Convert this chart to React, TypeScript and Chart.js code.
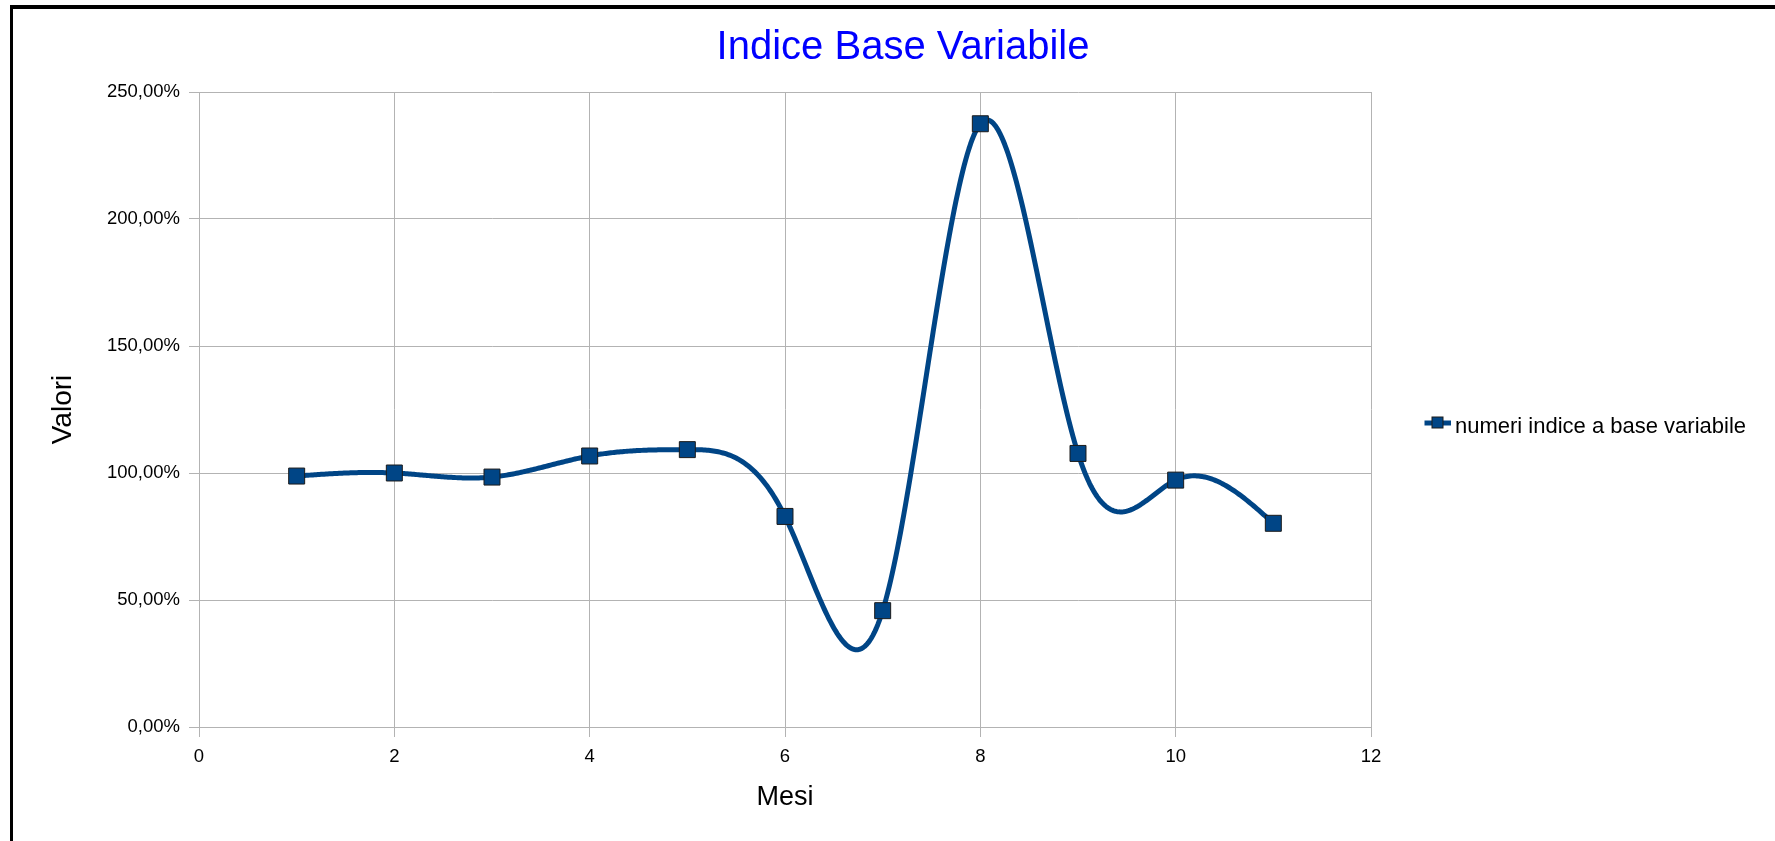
import React, { useEffect, useRef } from "react";
import { Chart, registerables } from "chart.js";

Chart.register(...registerables);

// ---- data ----
const chartTitle = "Indice Base Variabile";
const xAxisTitle = "Mesi";
const yAxisTitle = "Valori";
const seriesName = "numeri indice a base variabile";
const months = [1, 2, 3, 4, 5, 6, 7, 8, 9, 10, 11];
const indexValues = [98.8, 100.0, 98.4, 106.7, 109.2, 82.9, 45.8, 237.5, 107.7, 97.2, 80.2];
const xTickValues = [0, 2, 4, 6, 8, 10, 12];
const yTickValues = [0, 50, 100, 150, 200, 250];

// ---- style ----
const W = 1775;
const H = 841;
const FONT = "'Liberation Sans', Arial, Helvetica, sans-serif";
const LINE_COLOR = "#004586";
const MARKER_BORDER = "#1b1b1b";
const GRID = "#b3b3b3";
const LEGEND_FONT = 22;
const LEGEND_PAD = 10;
const LEGEND_BOX = 63;
const PLOT_RIGHT = 1371;
const PAD_LEFT = 50;
const PLOT_LEFT = 199;
const PAD_TOP = 12;

function splineSecondDerivatives(xs: number[], ys: number[]): number[] {
  const n = xs.length;
  const m = new Array(n).fill(0);
  if (n < 3) return m;
  const sub: number[] = [];
  const diag: number[] = [];
  const sup: number[] = [];
  const rhs: number[] = [];
  for (let i = 1; i < n - 1; i++) {
    const h0 = xs[i] - xs[i - 1];
    const h1 = xs[i + 1] - xs[i];
    sub.push(h0);
    diag.push(2 * (h0 + h1));
    sup.push(h1);
    rhs.push(6 * ((ys[i + 1] - ys[i]) / h1 - (ys[i] - ys[i - 1]) / h0));
  }
  const k = diag.length;
  for (let i = 1; i < k; i++) {
    const w = sub[i] / diag[i - 1];
    diag[i] -= w * sup[i - 1];
    rhs[i] -= w * rhs[i - 1];
  }
  const sol = new Array(k).fill(0);
  sol[k - 1] = rhs[k - 1] / diag[k - 1];
  for (let i = k - 2; i >= 0; i--) sol[i] = (rhs[i] - sup[i] * sol[i + 1]) / diag[i];
  for (let i = 0; i < k; i++) m[i + 1] = sol[i];
  return m;
}

const splinePlugin = {
  id: "naturalSplineLine",
  beforeDatasetsDraw(chart: any) {
    const ds = chart.data.datasets[0];
    const pts = ds.data as { x: number; y: number }[];
    const xs = pts.map((p) => p.x);
    const ys = pts.map((p) => p.y);
    const m = splineSecondDerivatives(xs, ys);
    const xScale = chart.scales.x;
    const yScale = chart.scales.y;
    const ctx = chart.ctx as CanvasRenderingContext2D;
    ctx.save();
    ctx.beginPath();
    const steps = 60;
    for (let i = 0; i < xs.length - 1; i++) {
      const h = xs[i + 1] - xs[i];
      for (let s = i === 0 ? 0 : 1; s <= steps; s++) {
        const b = s / steps;
        const a = 1 - b;
        const xv = xs[i] + b * h;
        const yv =
          a * ys[i] + b * ys[i + 1] + (((a * a * a - a) * m[i] + (b * b * b - b) * m[i + 1]) * h * h) / 6;
        const px = xScale.getPixelForValue(xv);
        const py = yScale.getPixelForValue(yv);
        if (i === 0 && s === 0) ctx.moveTo(px, py);
        else ctx.lineTo(px, py);
      }
    }
    ctx.lineWidth = 5;
    ctx.strokeStyle = ds.borderColor;
    ctx.lineJoin = "round";
    ctx.lineCap = "round";
    ctx.stroke();
    ctx.restore();
  },
};

export default function App() {
  const ref = useRef<HTMLCanvasElement>(null);

  useEffect(() => {
    const canvas = ref.current;
    if (!canvas) return;

    const measure = document.createElement("canvas").getContext("2d")!;
    measure.font = `${LEGEND_FONT}px ${FONT}`;
    const textW = measure.measureText(seriesName).width;
    const legendWidth = 2 * LEGEND_PAD + LEGEND_BOX + LEGEND_FONT / 2 + textW;
    const padRight = W - PLOT_RIGHT - legendWidth;

    // legend symbol: short line with a square marker (drawn slightly above the icon centre)
    const legendIcon = document.createElement("canvas");
    legendIcon.width = 76;
    legendIcon.height = 24;
    const ic = legendIcon.getContext("2d")!;
    ic.fillStyle = LINE_COLOR;
    ic.fillRect(50, 6, 26, 5);
    ic.fillRect(57, 2, 12, 12);
    ic.strokeStyle = MARKER_BORDER;
    ic.lineWidth = 1;
    ic.strokeRect(57.5, 2.5, 11, 11);

    const baseGenerate = (Chart.defaults as any).plugins.legend.labels.generateLabels;

    const chart = new Chart(canvas, {
      type: "scatter",
      data: {
        datasets: [
          {
            label: seriesName,
            data: months.map((mo, i) => ({ x: mo, y: indexValues[i] })),
            showLine: false,
            borderColor: LINE_COLOR,
            backgroundColor: LINE_COLOR,
            pointStyle: "rect",
            pointRadius: 11.3,
            pointHoverRadius: 11.3,
            pointBackgroundColor: LINE_COLOR,
            pointBorderColor: MARKER_BORDER,
            pointBorderWidth: 1,
          },
        ],
      },
      options: {
        animation: false,
        responsive: false,
        events: [],
        layout: { padding: { left: PAD_LEFT, right: padRight, top: PAD_TOP, bottom: 0 } },
        plugins: {
          title: {
            display: true,
            text: chartTitle,
            color: "#0000ff",
            font: { family: FONT, size: 40, weight: "normal" },
            padding: { top: 23.5 - PAD_TOP, bottom: 20.5 },
          },
          legend: {
            position: "right",
            align: "center",
            labels: {
              usePointStyle: true,
              pointStyleWidth: LEGEND_BOX,
              padding: LEGEND_PAD,
              color: "#000",
              font: { family: FONT, size: LEGEND_FONT },
              generateLabels: (c: any) =>
                baseGenerate(c).map((l: any) => ({ ...l, pointStyle: legendIcon })),
            },
          },
          tooltip: { enabled: false },
        },
        scales: {
          x: {
            type: "linear",
            position: "bottom",
            min: 0,
            max: 12,
            afterBuildTicks: (s: any) => {
              s.ticks = xTickValues.map((v) => ({ value: v }));
            },
            afterFit: (s: any) => {
              s.height = 114;
            },
            ticks: {
              color: "#000",
              font: { family: FONT, size: 18.5 },
              padding: 9,
              maxRotation: 0,
              autoSkip: false,
            },
            grid: { color: GRID, lineWidth: 1, tickLength: 10, tickColor: GRID },
            border: { color: GRID },
            title: {
              display: true,
              text: xAxisTitle,
              color: "#000",
              font: { family: FONT, size: 27 },
              padding: { top: 0, bottom: 27 },
            },
          },
          y: {
            type: "linear",
            min: 0,
            max: 250,
            afterBuildTicks: (s: any) => {
              s.ticks = yTickValues.map((v) => ({ value: v }));
            },
            afterFit: (s: any) => {
              s.width = PLOT_LEFT - PAD_LEFT;
            },
            ticks: {
              color: "#000",
              font: { family: FONT, size: 18.5 },
              padding: 9,
              callback: (v: any) => Number(v).toFixed(2).replace(".", ",") + "%",
            },
            grid: { color: GRID, lineWidth: 1, tickLength: 10, tickColor: GRID },
            border: { color: GRID },
            title: {
              display: true,
              text: yAxisTitle,
              color: "#000",
              font: { family: FONT, size: 28 },
              padding: { top: 63 - PAD_LEFT - 16.8, bottom: 0 },
            },
          },
        },
      } as any,
      plugins: [splinePlugin],
    });

    return () => chart.destroy();
  }, []);

  return (
    <div
      style={{
        position: "fixed",
        left: 0,
        top: 0,
        width: W,
        height: H,
        background: "#fff",
        overflow: "hidden",
      }}
    >
      <div
        style={{
          position: "absolute",
          left: 10,
          top: 5,
          width: W + 100,
          height: H + 100,
          borderLeft: "3px solid #000",
          borderTop: "4px solid #000",
          boxSizing: "border-box",
        }}
      />
      <canvas
        ref={ref}
        width={W}
        height={H}
        style={{ position: "absolute", left: 0, top: 0, width: W, height: H }}
      />
    </div>
  );
}
